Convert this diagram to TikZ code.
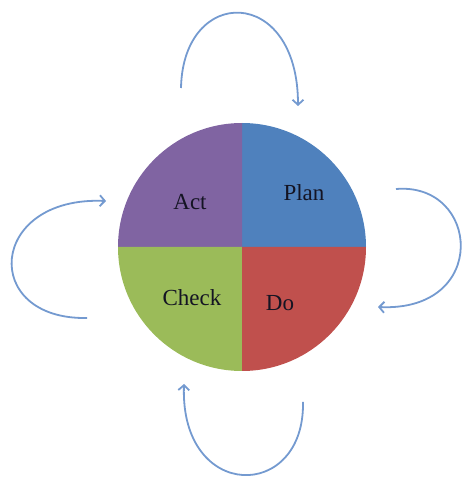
\documentclass[tikz,border=0pt]{standalone}
\usepackage{fontspec}
\setmainfont{Liberation Serif}
\usetikzlibrary{arrows.meta}
\definecolor{actpurple}{RGB}{128,100,162}
\definecolor{planblue}{RGB}{79,129,189}
\definecolor{dored}{RGB}{192,80,77}
\definecolor{checkgreen}{RGB}{155,187,89}
\definecolor{loopblue}{RGB}{116,154,208}
\definecolor{labelink}{RGB}{20,20,35}
\tikzset{
  loop arrow/.style={draw=loopblue, line width=1.8pt, -{Straight Barb[length=5pt,width=11pt]}},
  phase/.style={font=\fontsize{23}{28}\selectfont, text=labelink}
}
\begin{document}
\begin{tikzpicture}[x=1pt,y=1pt]
        \useasboundingbox (0,0) rectangle (462,477);
        \coordinate (O) at (242,230);

        \coordinate (T1) at (181,389);
        \coordinate (T2) at (298,371);
        \coordinate (R1) at (396,288);
        \coordinate (R2) at (378,170);
        \coordinate (B1) at (303,75);
        \coordinate (B2) at (184,93);
        \coordinate (L1) at (87,159);
        \coordinate (L2) at (106,276);

        % quadrants
        \fill[planblue] (O) -- ++(124,0) arc (0:90:124) -- cycle;
        \fill[actpurple] (O) -- ++(0,124) arc (90:180:124) -- cycle;
        \fill[checkgreen] (O) -- ++(-124,0) arc (180:270:124) -- cycle;
        \fill[dored] (O) -- ++(0,-124) arc (270:360:124) -- cycle;

        \node[phase] (act) at (190,275) {Act};
        \node[phase] (plan) at (304,284) {Plan};
        \node[phase] (check) at (192,179) {Check};
        \node[phase] (do) at (280,174) {Do};

        % loops round the circle
        \draw[loop arrow] (T1) .. controls (183,492) and (298,492) .. (T2);
        \draw[loop arrow] (R1) .. controls (480,295) and (490,165) .. (R2);
        \draw[loop arrow] (B1) .. controls (305,-25) and (180,-25) .. (B2);
        \draw[loop arrow] (L1) .. controls (-20,157) and (-12,281) .. (L2);
    \end{tikzpicture}
\end{document}
